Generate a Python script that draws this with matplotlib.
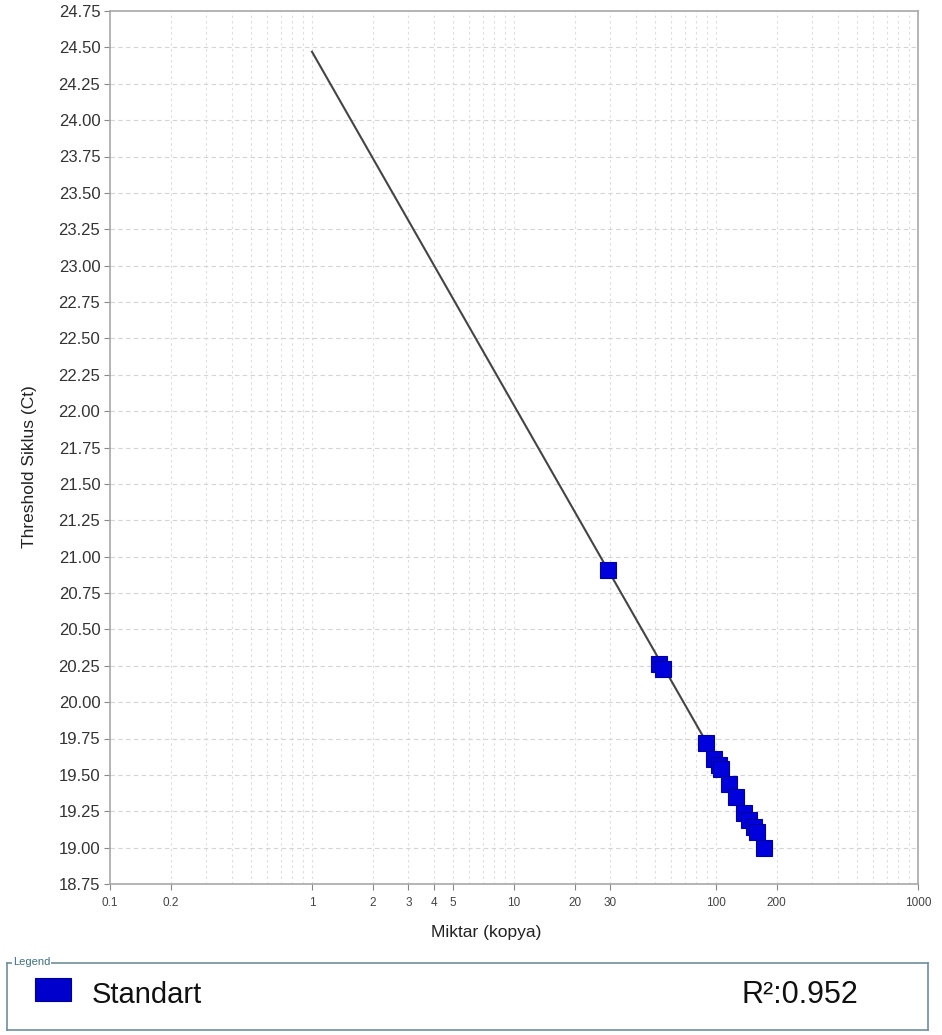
import numpy as np
import matplotlib.pyplot as plt
from matplotlib.patches import Rectangle
from matplotlib.ticker import FixedLocator, NullFormatter

plt.rcParams['font.family'] = ['Liberation Sans', 'DejaVu Sans']

# standart noktalari (kopya sayisi, Ct)
miktar = [29.1, 52.1, 54.6, 89.2, 97.8, 103.5, 105.9, 116.0, 125.7,
          137.7, 145.9, 154.5, 159.7, 173.0]
ct = [20.91, 20.26, 20.23, 19.72, 19.61, 19.57, 19.54, 19.44, 19.35,
      19.24, 19.19, 19.14, 19.11, 19.00]

# regresyon dogrusu uclari
fit_x = [1, 173.0]
fit_y = [24.47, 19.03]

x_ticks = [0.1, 0.2, 1, 2, 3, 4, 5, 10, 20, 30, 100, 200, 1000]
x_labels = ['0.1', '0.2', '1', '2', '3', '4', '5', '10', '20', '30', '100', '200', '1000']
y_ticks = np.arange(18.75, 24.76, 0.25)

seri_adi = 'Standart'
r2_text = 'R²:0.952'

fig = plt.figure(figsize=(9.42, 10.35), dpi=100)
ax = fig.add_axes([110 / 942, 1 - 884 / 1035, 808 / 942, 873 / 1035])

ax.set_xscale('log')
ax.set_xlim(0.1, 1000)
ax.set_ylim(18.75, 24.75)

# grid: her log ara degerinde dikey, her 0.25'te yatay
minor = [m * 10.0 ** e for e in range(-1, 3) for m in range(1, 10)]
for v in minor[1:]:
    ax.axvline(v, color='#dcdcdc', lw=0.8, ls=(0, (2, 3)), zorder=0)
for v in y_ticks[1:-1]:
    ax.axhline(v, color='#d4d4d4', lw=0.8, ls=(0, (4, 3)), zorder=0)

ax.plot(fit_x, fit_y, color='#444444', lw=1.5, zorder=2)
ax.plot(miktar, ct, 's', ms=11.5, mfc='#0000dd', mec='#00009a', mew=0.8,
        zorder=3, label=seri_adi)

ax.xaxis.set_major_locator(FixedLocator(x_ticks))
ax.set_xticklabels(x_labels)
ax.xaxis.set_minor_formatter(NullFormatter())
ax.tick_params(axis='x', which='minor', length=0)
ax.tick_params(axis='x', which='major', length=4, color='#888888',
               labelsize=8.5, labelcolor='#444444', pad=5)
ax.set_yticks(y_ticks)
ax.set_yticklabels(['%.2f' % v for v in y_ticks])
ax.tick_params(axis='y', length=4, color='#888888', labelsize=12,
               labelcolor='#333333', pad=3)
for s in ax.spines.values():
    s.set_color('#a8a8a8')
    s.set_linewidth(1.2)

ax.set_xlabel('Miktar (kopya)', fontsize=12.5, color='#222222')
ax.xaxis.set_label_coords(0.465, -0.047)
ax.set_ylabel('Threshold Siklus (Ct)', fontsize=12.5, color='#222222')
ax.yaxis.set_label_coords(-0.09, 0.478)

# legend kutusu
leg = fig.add_axes([7 / 942, 1 - 1030 / 1035, 921 / 942, 67 / 1035])
leg.set_xlim(7, 928)
leg.set_ylim(1030, 963)
leg.set_xticks([])
leg.set_yticks([])
for s in leg.spines.values():
    s.set_color('#6f8f9c')
    s.set_linewidth(1.2)
leg.add_patch(Rectangle((35, 978), 36, 23, facecolor='#0000cc',
                        edgecolor='#000090', lw=0.8))
leg.text(92, 995, seri_adi, fontsize=21, va='center', ha='left', color='#111111')
leg.text(742, 995, r2_text, fontsize=22, va='center', ha='left', color='#111111')
fig.text(13 / 942, 1 - 962 / 1035, 'Legend', fontsize=8, color='#3f6f80',
         va='center', ha='left',
         bbox=dict(facecolor='white', edgecolor='none', pad=0.5))

fig.savefig('out.png', dpi=100)
